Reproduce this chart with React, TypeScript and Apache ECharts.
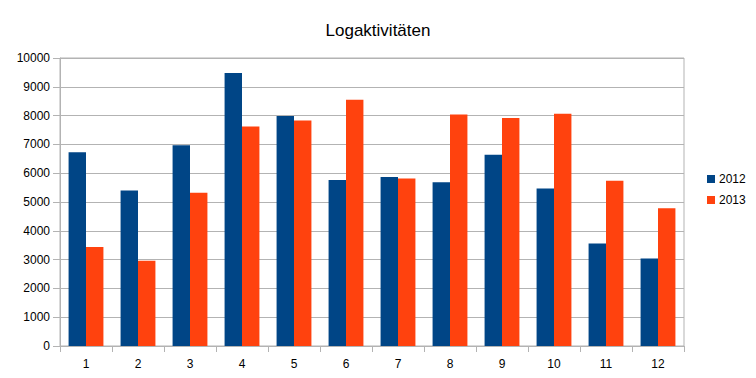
import React, { useEffect, useRef } from "react";
import * as echarts from "echarts";

const categories = ["1", "2", "3", "4", "5", "6", "7", "8", "9", "10", "11", "12"];
const values2012 = [6730, 5400, 6970, 9480, 7990, 5760, 5870, 5690, 6640, 5470, 3560, 3040];
const values2013 = [3440, 2960, 5320, 7620, 7830, 8550, 5820, 8040, 7920, 8060, 5740, 4780];
const seriesNames = ["2012", "2013"];

export default function App() {
  const ref = useRef<HTMLDivElement>(null);
  useEffect(() => {
    if (!ref.current) return;
    const chart = echarts.init(ref.current, undefined, { renderer: "svg" });
    const font = "'Liberation Sans', Arial, sans-serif";
    chart.setOption({
      animation: false,
      textStyle: { fontFamily: font },
      title: {
        text: "Logaktivitäten",
        left: "center",
        top: 17,
        textStyle: { fontFamily: font, fontSize: 17, fontWeight: "normal", color: "#000" },
      },
      legend: {
        orient: "vertical",
        left: 702,
        top: 168,
        itemWidth: 8,
        itemHeight: 8,
        itemGap: 9,
        icon: "rect",
        textStyle: { fontFamily: font, fontSize: 12, color: "#000", padding: [0, 0, 0, -1] },
        data: seriesNames,
      },
      grid: {
        left: 60,
        right: 72,
        top: 58,
        bottom: 32,
        show: true,
        borderColor: "#b3b3b3",
        borderWidth: 1,
      },
      xAxis: {
        type: "category",
        data: categories,
        axisLine: { lineStyle: { color: "#b3b3b3" } },
        axisTick: { show: true, length: 6, lineStyle: { color: "#b3b3b3" } },
        axisLabel: { color: "#000", fontSize: 12, fontFamily: font, margin: 12 },
      },
      yAxis: {
        type: "value",
        min: 0,
        max: 10000,
        interval: 1000,
        axisLine: { show: true, lineStyle: { color: "#b3b3b3" } },
        axisTick: { show: true, length: 7, lineStyle: { color: "#b3b3b3" } },
        splitLine: { show: true, lineStyle: { color: "#b3b3b3" } },
        axisLabel: {
          color: "#000",
          fontSize: 12,
          fontFamily: font,
          margin: 10,
          formatter: (v: number) => String(v),
        },
      },
      series: [
        {
          name: seriesNames[0],
          type: "bar",
          data: values2012,
          itemStyle: { color: "#004586" },
          barGap: "0%",
          barCategoryGap: "33%",
        },
        {
          name: seriesNames[1],
          type: "bar",
          data: values2013,
          itemStyle: { color: "#ff420e" },
          barGap: "0%",
          barCategoryGap: "33%",
        },
      ],
    });
    return () => chart.dispose();
  }, []);
  return (
    <div
      ref={ref}
      style={{ position: "fixed", left: 0, top: 0, width: 756, height: 378, background: "#fff" }}
    />
  );
}
